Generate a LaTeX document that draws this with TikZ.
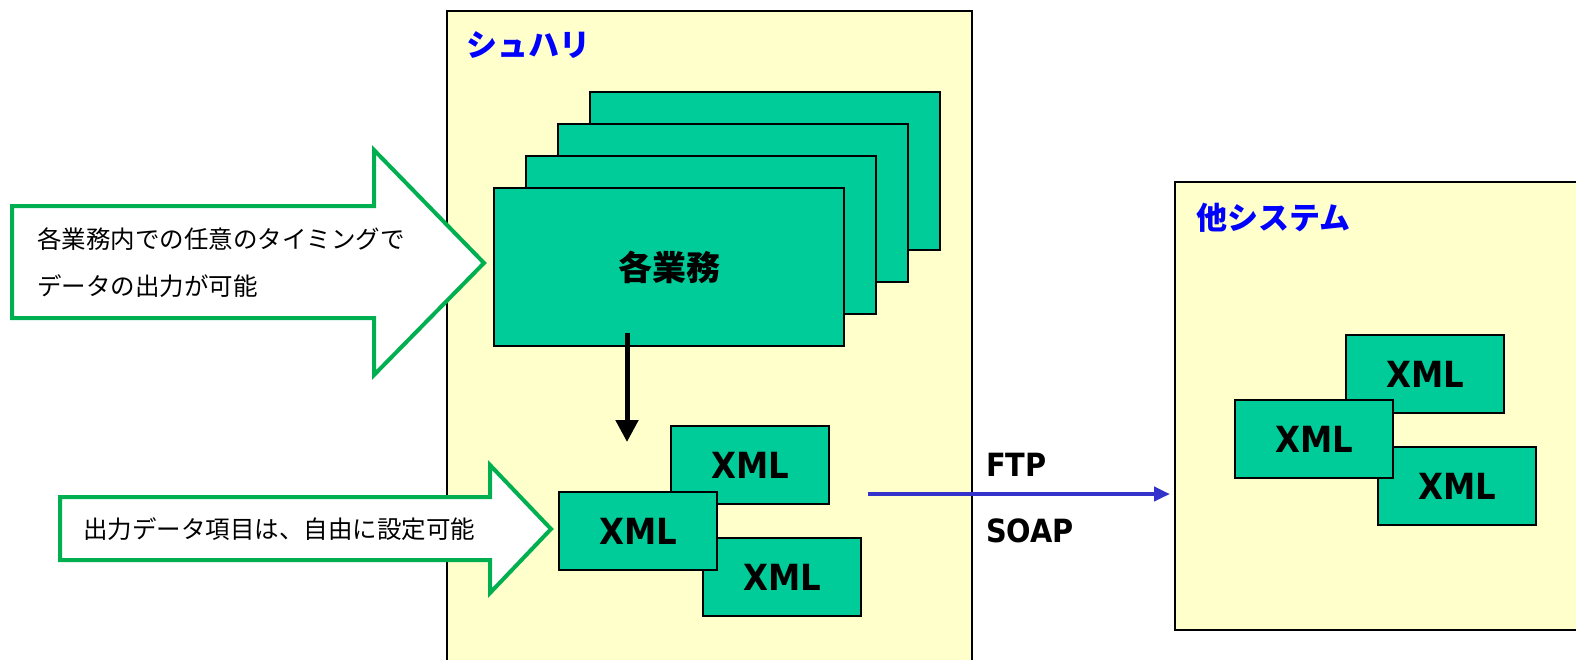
\documentclass[tikz,border=0pt]{standalone}
\usepackage{fontspec}
\newfontfamily\jp{Noto Sans CJK JP}
\newfontfamily\bsans[FakeStretch=0.9]{DejaVu Sans}
\usetikzlibrary{arrows.meta}
\definecolor{paleyellow}{HTML}{FFFFCC}
\definecolor{teal}{HTML}{00CC99}
\definecolor{arrowgreen}{HTML}{00B050}
\definecolor{linkblue}{HTML}{3333CC}
\definecolor{titleblue}{HTML}{0000FF}
\begin{document}
\begin{tikzpicture}[x=1pt,y=-1pt,
  sysbox/.style={draw=black,line width=2.4pt,fill=paleyellow},
  taskbox/.style={draw=black,line width=2pt,fill=teal,anchor=north west,inner sep=0pt,minimum width=350,minimum height=158},
  xmlbox/.style={draw=black,line width=2pt,fill=teal,anchor=north west,inner sep=0pt,minimum width=158,minimum height=78,font=\bsans\bfseries\fontsize{36}{40}\selectfont},
  bigarrow/.style={draw=arrowgreen,line width=4pt,fill=white,line join=miter},
  note/.style={font=\jp\fontsize{24.5}{47}\selectfont,anchor=west,align=left,inner sep=0pt},
  title/.style={font=\jp\bfseries\fontsize{31}{36}\selectfont,text=titleblue,anchor=west,inner sep=0pt},
  proto/.style={font=\bsans\bfseries\fontsize{32}{36}\selectfont,anchor=west,inner sep=0pt}]
\useasboundingbox (0,0) rectangle (1576,659);
% system boxes
\path[sysbox] (447,11) rectangle (972,680);
\path[sysbox] (1175,182) rectangle (1600,630);
\node[title] (shuhari) at (466,45) {シュハリ};
\node[title] (other) at (1196,218) {他システム};
% stacked task boxes
\node[taskbox] (t4) at (589,91) {};
\node[taskbox] (t3) at (557,123) {};
\node[taskbox] (t2) at (525,155) {};
\node[taskbox] (t1) at (493,187) {\jp\bfseries\fontsize{34}{40}\selectfont 各業務};
% left XML boxes
\node[xmlbox] (xa) at (670,425) {XML};
\node[xmlbox] (xc) at (702,537) {XML};
\node[xmlbox] (xb) at (558,491) {XML};
% right XML boxes
\node[xmlbox] (ya) at (1345,334) {XML};
\node[xmlbox] (yc) at (1377,446) {XML};
\node[xmlbox] (yb) at (1234,399) {XML};
% black arrow
\coordinate (dstart) at (627,333);
\coordinate (dend) at (627,442);
\draw[line width=5pt,-{Triangle[width=22pt,length=22pt]}] (dstart) -- (dend);
% blue link
\coordinate (lstart) at (868,494);
\coordinate (lend) at (1170,494);
\draw[draw=linkblue,line width=4.4pt,-{Triangle[width=14pt,length=16pt]}] (lstart) -- (lend);
\node[proto] (ftp) at (986,465) {FTP};
\node[proto] (soap) at (986,531) {SOAP};
% green arrows
\path[bigarrow] (12,206) -- (374,206) -- (374,150) -- (484,263) -- (374,375) -- (374,318) -- (12,318) -- cycle;
\node[note] (n1) at (37,263) {各業務内での任意のタイミングで\\データの出力が可能};
\path[bigarrow] (60,497) -- (490,497) -- (490,465) -- (551,529) -- (490,593) -- (490,560) -- (60,560) -- cycle;
\node[note] (n2) at (83,529) {出力データ項目は、自由に設定可能};
\end{tikzpicture}
\end{document}
